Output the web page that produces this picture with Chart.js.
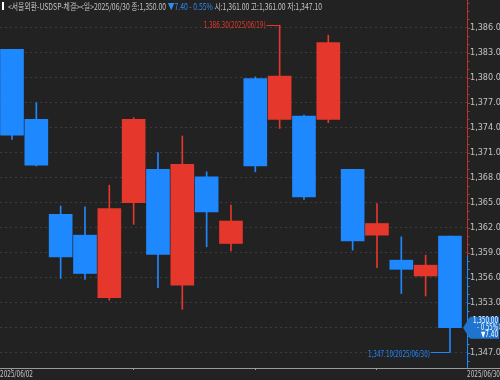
<!DOCTYPE html>
<html><head><meta charset="utf-8">
<script src="https://cdn.jsdelivr.net/npm/chart.js@4.4.1/dist/chart.umd.min.js"></script>
<style>html,body{margin:0;padding:0;background:#222;}#wrap{position:relative;width:500px;height:380px;}</style>
</head><body><div id="wrap"><canvas id="c"></canvas></div>
<script>
const dates = ['2025/06/02','2025/06/04','2025/06/05','2025/06/09','2025/06/10','2025/06/11','2025/06/12','2025/06/13','2025/06/16','2025/06/17','2025/06/18','2025/06/19','2025/06/20','2025/06/23','2025/06/24','2025/06/25','2025/06/26','2025/06/27','2025/06/30'];
const opens  = [1383.4,1375.0,1363.6,1361.1,1353.6,1365.0,1369.0,1355.1,1368.1,1360.1,1379.9,1375.0,1375.4,1375.0,1369.0,1361.1,1358.1,1356.2,1361.0];
const closes = [1373.1,1369.5,1358.5,1356.5,1364.3,1375.0,1358.8,1369.6,1363.9,1362.8,1369.4,1380.2,1365.7,1384.2,1360.4,1362.5,1357.0,1357.5,1350.0];
const highs  = [1383.4,1377.0,1364.6,1364.5,1367.1,1375.2,1371.0,1373.0,1368.7,1364.7,1380.1,1386.3,1375.5,1385.1,1369.0,1364.9,1360.9,1358.7,1361.0];
const lows   = [1372.6,1369.4,1355.9,1355.8,1353.3,1362.4,1354.8,1352.2,1359.7,1359.2,1368.7,1373.9,1365.4,1374.6,1359.3,1357.2,1354.1,1353.8,1347.1];
const yTicks = [1347,1350,1353,1356,1359,1362,1365,1368,1371,1374,1377,1380,1383,1386];
const xWeekTicks = [2.5,7.5,12.5];
const title = '<서울외환-USDSP-체결><일>';
const change = 7.40, changePct = -0.55, axisSplit = 1358.7;

const UP = '#E5372B', DN = '#1E88FF', TXT = '#c4c4c4';
const NARROW = "'Liberation Sans Narrow','DejaVu Sans Condensed','Liberation Sans',sans-serif";
const fmt = v => v.toLocaleString('en-US',{minimumFractionDigits:2,maximumFractionDigits:2});
const idx = dates.map((d,i)=>i);
const col = idx.map(i => closes[i] >= opens[i] ? UP : DN);
const last = dates.length - 1;

function fitText(ctx, text, x, y, w, align){
  const m = ctx.measureText(text).width;
  const s = w / m;
  ctx.save();
  ctx.translate(x, y);
  ctx.scale(s, 1);
  ctx.textAlign = 'left';
  let x0 = 0;
  if (align === 'right') x0 = -m; else if (align === 'center') x0 = -m/2;
  ctx.fillText(text, x0, 0);
  ctx.restore();
}

const deco = {
  id:'deco',
  beforeDraw(chart){
    const c = chart.ctx; c.save(); c.fillStyle = '#222'; c.fillRect(0,0,chart.width,chart.height); c.restore();
  },
  afterDraw(chart){
    const c = chart.ctx, xs = chart.scales.x, ys = chart.scales.y, a = chart.chartArea;
    c.save();
    // x axis line
    c.strokeStyle = '#9a9a9a'; c.lineWidth = 1;
    c.beginPath(); c.moveTo(0, a.bottom + 0.5); c.lineTo(chart.width, a.bottom + 0.5); c.stroke();
    // right axis line split
    const ax = a.right + 0.5, ySplit = ys.getPixelForValue(axisSplit);
    c.strokeStyle = '#c0312a'; c.beginPath(); c.moveTo(ax, 0); c.lineTo(ax, ySplit); c.stroke();
    c.strokeStyle = DN; c.beginPath(); c.moveTo(ax, ySplit); c.lineTo(ax, a.bottom); c.stroke();
    // axis minor/major tick marks
    for (let v = Math.ceil(ys.min); v <= ys.max; v++) {
      const py = Math.round(ys.getPixelForValue(v)) + 0.5;
      const major = yTicks.includes(v);
      c.strokeStyle = py < ySplit ? '#c0312a' : DN;
      c.beginPath(); c.moveTo(ax, py); c.lineTo(ax + (major ? 3 : 2), py); c.stroke();
    }
    // date labels
    c.fillStyle = TXT; c.font = "9px " + NARROW; c.textBaseline = 'middle';
    fitText(c, dates[0], 0, a.bottom + 6.5, 33, 'left');
    fitText(c, dates[last], chart.width, a.bottom + 6.5, 33, 'right');
    // high annotation
    let hi = 0, lo = 0;
    idx.forEach(i => { if (highs[i] > highs[hi]) hi = i; if (lows[i] < lows[lo]) lo = i; });
    let px = xs.getPixelForValue(hi), py = Math.round(ys.getPixelForValue(highs[hi])) + 0.5;
    c.strokeStyle = UP; c.fillStyle = UP;
    c.beginPath(); c.moveTo(px - 13, py); c.lineTo(px, py); c.stroke();
    fitText(c, fmt(highs[hi]) + '(' + dates[hi] + ')', px - 14, py + 0.5, 62, 'right');
    // low annotation
    px = xs.getPixelForValue(lo); py = Math.round(ys.getPixelForValue(lows[lo])) + 0.5;
    c.strokeStyle = DN; c.fillStyle = DN;
    c.beginPath(); c.moveTo(px - 19, py); c.lineTo(px, py); c.stroke();
    fitText(c, fmt(lows[lo]) + '(' + dates[lo] + ')', px - 20, py + 2, 62, 'right');
    // current price box
    const cy = ys.getPixelForValue(closes[last]);
    const bx = a.right + 3, bw = chart.width - 1 - bx;
    c.fillStyle = '#1f74d0';
    c.beginPath();
    c.moveTo(a.right - 4, cy); c.lineTo(bx, cy - 11); c.lineTo(bx + bw, cy - 11);
    c.lineTo(bx + bw, cy + 11); c.lineTo(bx, cy + 11); c.closePath(); c.fill();
    c.fillStyle = '#ffffff'; c.font = "8px " + NARROW; c.textBaseline = 'middle';
    fitText(c, fmt(closes[last]), bx + bw - 1, cy - 7, 25, 'right');
    fitText(c, '- ' + Math.abs(changePct).toFixed(2) + '%', bx + bw - 1, cy, 21, 'right');
    fitText(c, '▼' + change.toFixed(2), bx + bw - 1, cy + 7, 17, 'right');
    // header
    c.fillStyle = '#ffffff'; c.fillRect(2, 2, 2, 8);
    c.font = "9px 'Noto Sans CJK KR','DejaVu Sans',sans-serif"; c.textBaseline = 'middle';
    const p1 = title + dates[last] + ' 종:' + fmt(closes[last]) + ' ';
    const p2 = '▼' + change.toFixed(2) + ' ' + (changePct < 0 ? '- ' : '') + Math.abs(changePct).toFixed(2) + '% ';
    const p3 = '시:' + fmt(opens[last]) + ' 고:' + fmt(highs[last]) + ' 저:' + fmt(lows[last]);
    const total = c.measureText(p1 + p2 + p3).width;
    const s = 314 / total;
    c.save(); c.translate(8, 6.5); c.scale(s, 1); c.textAlign = 'left';
    c.fillStyle = TXT; c.fillText(p1, 0, 0);
    let w = c.measureText(p1).width;
    c.fillStyle = '#2f8cf0'; c.fillText(p2, w, 0);
    w += c.measureText(p2).width;
    c.fillStyle = TXT; c.fillText(p3, w, 0);
    c.restore();
    c.restore();
  }
};

new Chart(document.getElementById('c'), {
  type: 'bar',
  data: {
    labels: dates,
    datasets: [
      { label:'body', data: idx.map(i => ({x:i, y:[opens[i], closes[i]]})), backgroundColor: col, borderColor: col, borderWidth: 0, borderSkipped: false, barThickness: 23, grouped: false, order: 0 },
      { label:'wick', data: idx.map(i => ({x:i, y:[lows[i], highs[i]]})), backgroundColor: col, borderWidth: 0, barThickness: 1, grouped: false, order: 1 }
    ]
  },
  options: {
    responsive: true, maintainAspectRatio: false, animation: false,
    layout: { padding: 0 },
    plugins: { legend: { display: false }, tooltip: { enabled: false } },
    scales: {
      x: {
        type: 'linear', min: -0.493, max: 18.70, offset: false,
        afterBuildTicks: s => { s.ticks = xWeekTicks.map(v => ({value: v})); },
        afterFit: s => { s.height = 12; s.paddingLeft = 0; s.paddingRight = 0; },
        grid: { drawOnChartArea: false, drawTicks: true, tickLength: 2, color: '#9a9a9a' },
        border: { display: false },
        ticks: { display: false }
      },
      y: {
        type: 'linear', position: 'right', min: 1345.16, max: 1389.32,
        afterBuildTicks: s => { s.ticks = yTicks.map(v => ({value: v})); },
        afterFit: s => { s.width = 33; s.paddingTop = 0; s.paddingBottom = 0; },
        grid: { color: '#3c3c3c', lineWidth: 1, drawTicks: false, borderDash: [2,3] },
        border: { display: false, dash: [2,3] },
        ticks: { color: TXT, padding: 3, font: { family: NARROW, size: 9 }, callback: v => fmt(v) }
      }
    }
  },
  plugins: [deco]
});
</script>
</body></html>
